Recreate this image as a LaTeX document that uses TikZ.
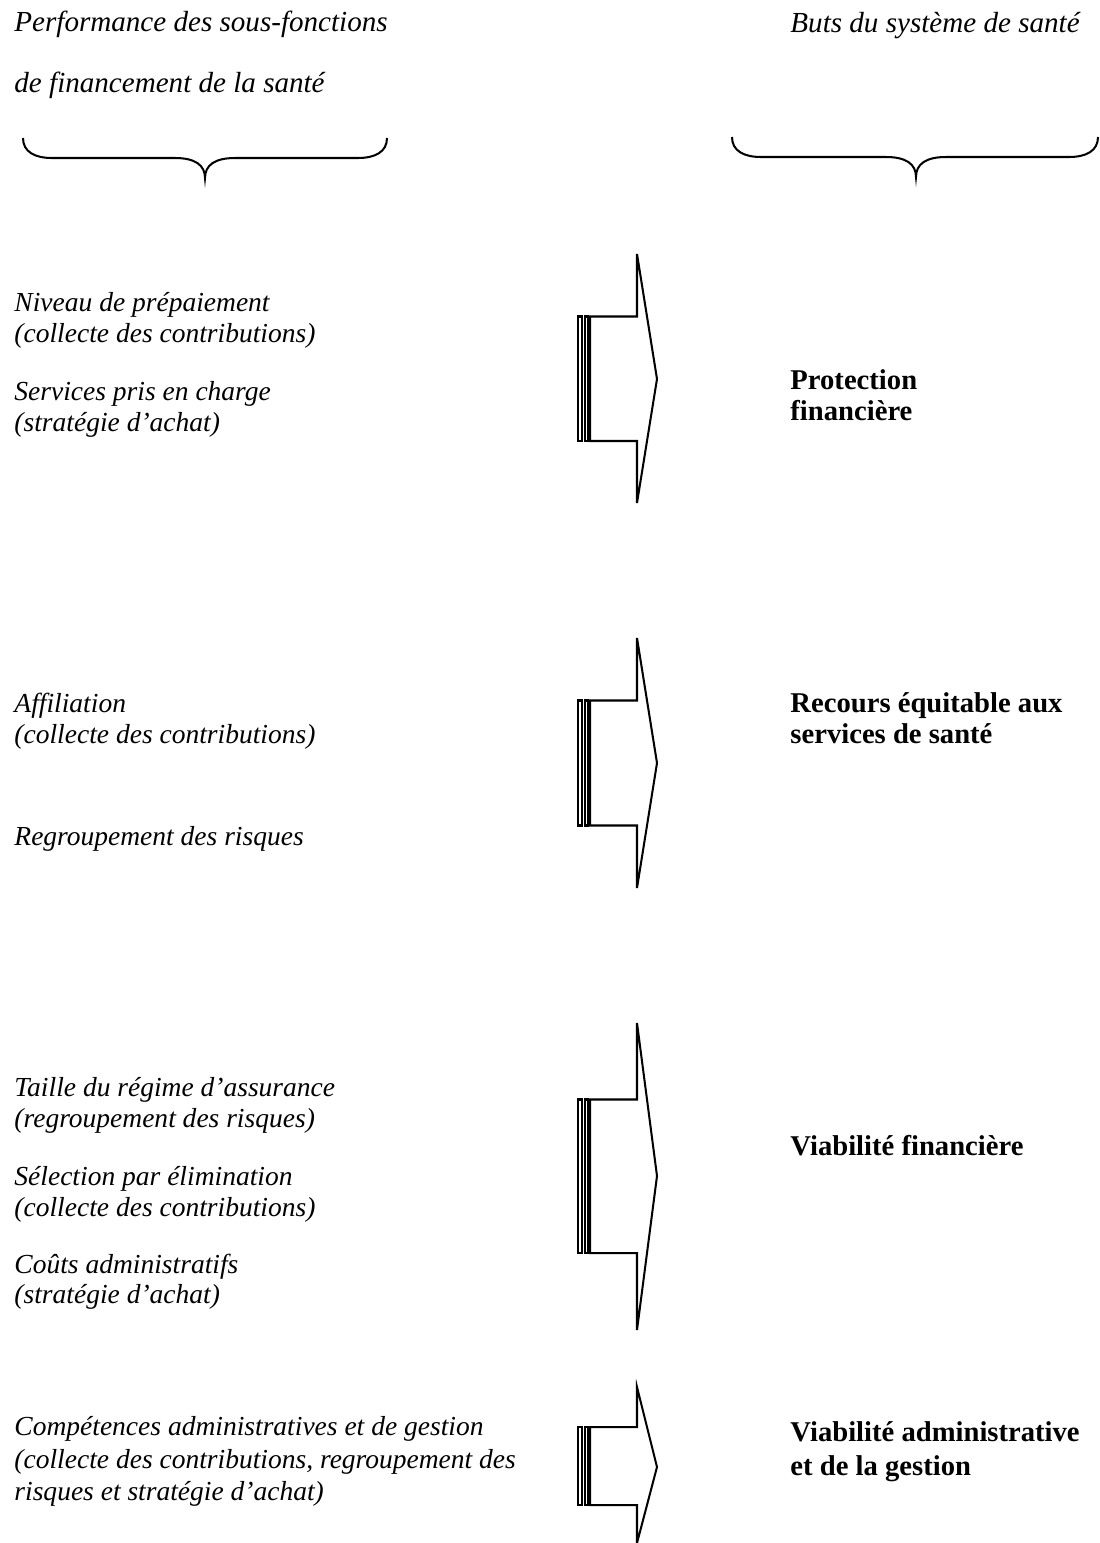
\documentclass[tikz,border=0pt]{standalone}
\usepackage{fontspec}
\setmainfont{Liberation Serif}
\usetikzlibrary{positioning}

\tikzset{
  lefttxt/.style={anchor=base west, inner sep=0pt, font=\fontsize{12.2}{14}\selectfont\itshape},
  headtxt/.style={lefttxt, font=\fontsize{12.9}{14}\selectfont\itshape},
  goaltxt/.style={anchor=base west, inner sep=0pt, font=\fontsize{12.7}{14}\selectfont\bfseries},
  bracelines/.style={line width=0.9pt},
  stripedarrow/.style={line width=0.9pt, line join=miter}
}

% striped arrow: #1 = y of head top, #2 = y of tip, #3 = y of head bottom
\newcommand{\stripearrow}[3]{%
  \path (578,#2) coordinate (s) (657,#2) coordinate (t);
  \draw[stripedarrow] (578,{(#1+#2)/2}) rectangle (582,{(#3+#2)/2});
  \draw[stripedarrow] (585,{(#1+#2)/2}) rectangle (588,{(#3+#2)/2});
  \draw[stripedarrow] (590,{(#1+#2)/2}) -- (637,{(#1+#2)/2}) -- (637,#1)
    -- (t) -- (637,#3) -- (637,{(#3+#2)/2}) -- (590,{(#3+#2)/2}) -- cycle;
}

\begin{document}
\begin{tikzpicture}[x=0.4435pt, y=-0.4435pt]
\useasboundingbox (0,0) rectangle (1100,1543);

% headings
\node[headtxt] (head1) at (14,31) {Performance des sous-fonctions};
\node[headtxt] (head2) at (14,92) {de financement de la sant\'e};
\node[headtxt] (head3) at (790,32) {Buts du syst\`eme de sant\'e};

% braces
\draw[bracelines] (23,138) .. controls (23,152) and (35,158) .. (52,158) -- (175,158)
  .. controls (195,158) and (205,165) .. (205,178)
  .. controls (205,165) and (215,158) .. (235,158) -- (358,158)
  .. controls (375,158) and (387,152) .. (387,138);
\draw[bracelines] (732,137) .. controls (732,151) and (744,157) .. (761,157) -- (886,157)
  .. controls (906,157) and (916,164) .. (916,177)
  .. controls (916,164) and (926,157) .. (946,157) -- (1069,157)
  .. controls (1086,157) and (1098,151) .. (1098,137);

% protection financiere
\node[lefttxt] (n1) at (14,311) {Niveau de pr\'epaiement};
\node[lefttxt] (n2) at (14,342) {(collecte des contributions)};
\node[lefttxt] (n3) at (14,400) {Services pris en charge};
\node[lefttxt] (n4) at (14,431) {(strat\'egie d’achat)};
\stripearrow{254}{379}{503}
\node[goaltxt] (g1) at (790,389) {Protection};
\node[goaltxt] (g2) at (790,420) {financi\`ere};

% recours equitable
\node[lefttxt] (a1) at (14,712) {Affiliation};
\node[lefttxt] (a2) at (14,743) {(collecte des contributions)};
\node[lefttxt] (a3) at (14,845) {Regroupement des risques};
\stripearrow{638}{763}{888}
\node[goaltxt] (g3) at (790,712) {Recours \'equitable aux};
\node[goaltxt] (g4) at (790,743) {services de sant\'e};

% viabilite financiere
\node[lefttxt] (t1) at (14,1096) {Taille du r\'egime d’assurance};
\node[lefttxt] (t2) at (14,1127) {(regroupement des risques)};
\node[lefttxt] (t3) at (14,1185) {S\'election par \'elimination};
\node[lefttxt] (t4) at (14,1216) {(collecte des contributions)};
\node[lefttxt] (t5) at (14,1273) {Co\^uts administratifs};
\node[lefttxt] (t6) at (14,1303) {(strat\'egie d’achat)};
\stripearrow{1023}{1176}{1330}
\node[goaltxt] (g5) at (790,1155) {Viabilit\'e financi\`ere};

% viabilite administrative
\node[lefttxt] (c1) at (14,1435) {Comp\'etences administratives et de gestion};
\node[lefttxt] (c2) at (14,1468) {(collecte des contributions, regroupement des};
\node[lefttxt] (c3) at (14,1500) {risques et strat\'egie d’achat)};
\stripearrow{1387}{1467}{1543}
\node[goaltxt] (g6) at (790,1441) {Viabilit\'e administrative};
\node[goaltxt] (g7) at (790,1475) {et de la gestion};
\end{tikzpicture}
\end{document}
